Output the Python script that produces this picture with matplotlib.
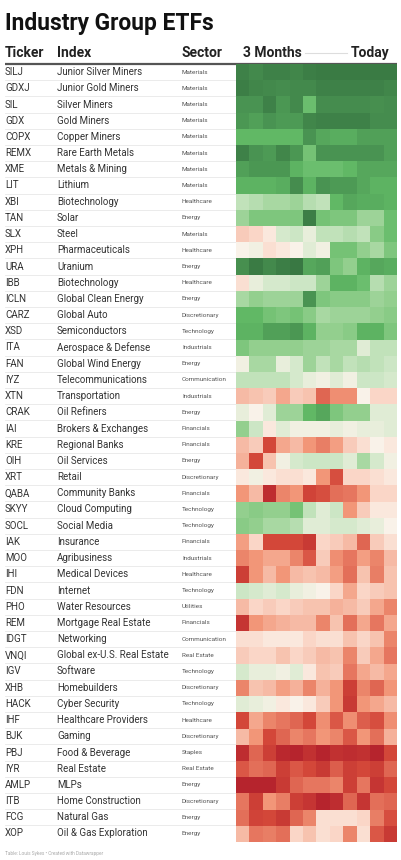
import numpy as np
import matplotlib
matplotlib.use("Agg")
import matplotlib.pyplot as plt
from matplotlib.colors import LinearSegmentedColormap

plt.rcParams['font.family'] = ['Roboto', 'DejaVu Sans']

tickers = ["SILJ", "GDXJ", "SIL", "GDX", "COPX", "REMX", "XME", "LIT", "XBI", "TAN",
           "SLX", "XPH", "URA", "IBB", "ICLN", "CARZ", "XSD", "ITA", "FAN", "IYZ",
           "XTN", "CRAK", "IAI", "KRE", "OIH", "XRT", "QABA", "SKYY", "SOCL", "IAK",
           "MOO", "IHI", "FDN", "PHO", "REM", "IDGT", "VNQI", "IGV", "XHB", "HACK",
           "IHF", "BJK", "PBJ", "IYR", "AMLP", "ITB", "FCG", "XOP"]

indexes = ["Junior Silver Miners", "Junior Gold Miners", "Silver Miners", "Gold Miners",
           "Copper Miners", "Rare Earth Metals", "Metals & Mining", "Lithium",
           "Biotechnology", "Solar", "Steel", "Pharmaceuticals", "Uranium", "Biotechnology",
           "Global Clean Energy", "Global Auto", "Semiconductors", "Aerospace & Defense",
           "Global Wind Energy", "Telecommunications", "Transportation", "Oil Refiners",
           "Brokers & Exchanges", "Regional Banks", "Oil Services", "Retail",
           "Community Banks", "Cloud Computing", "Social Media", "Insurance",
           "Agribusiness", "Medical Devices", "Internet", "Water Resources",
           "Mortgage Real Estate", "Networking", "Global ex-U.S. Real Estate", "Software",
           "Homebuilders", "Cyber Security", "Healthcare Providers", "Gaming",
           "Food & Beverage", "Real Estate", "MLPs", "Home Construction", "Natural Gas",
           "Oil & Gas Exploration"]

sectors = ["Materials", "Materials", "Materials", "Materials", "Materials", "Materials",
           "Materials", "Materials", "Healthcare", "Energy", "Materials", "Healthcare",
           "Energy", "Healthcare", "Energy", "Discretionary", "Technology", "Industrials",
           "Energy", "Communication", "Industrials", "Energy", "Financials", "Financials",
           "Energy", "Discretionary", "Financials", "Technology", "Technology", "Financials",
           "Industrials", "Healthcare", "Technology", "Utilities", "Financials",
           "Communication", "Real Estate", "Technology", "Discretionary", "Technology",
           "Healthcare", "Discretionary", "Staples", "Real Estate", "Energy",
           "Discretionary", "Energy", "Energy"]

# weekly relative strength over the last 3 months (-3 weak ... +3 strong)
weeks = [
    [2.7, 2.5, 2.7, 2.7, 2.6, 2.8, 2.9, 2.9, 2.9, 2.9, 2.9, 2.9],
    [2.8, 2.6, 2.5, 2.4, 2.5, 2.5, 2.7, 2.7, 2.7, 2.7, 2.7, 2.6],
    [2.2, 2.2, 2.7, 2.1, 2.5, 1.4, 2.4, 2.4, 2.4, 2.4, 2.3, 2.4],
    [2.1, 1.9, 2.2, 2.0, 2.0, 2.6, 2.7, 2.7, 2.7, 2.7, 2.4, 2.4],
    [1.5, 1.5, 1.5, 1.5, 1.5, 2.2, 1.8, 1.7, 1.7, 1.9, 1.9, 1.9],
    [2.7, 2.2, 2.0, 2.6, 2.1, 1.3, 2.2, 2.2, 2.2, 2.2, 2.2, 1.9],
    [1.9, 2.1, 2.1, 2.1, 1.6, 1.4, 1.4, 1.4, 1.5, 1.8, 1.8, 1.8],
    [1.6, 1.6, 1.6, 1.7, 2.4, 1.6, 2.2, 2.0, 2.0, 1.8, 1.6, 1.6],
    [0.6, 0.7, 0.8, 0.8, 0.9, 0.7, 0.6, 1.5, 1.8, 1.7, 1.7, 1.6],
    [0.9, 1.2, 1.2, 1.2, 1.2, 2.8, 1.3, 1.2, 1.2, 0.9, 0.9, 1.4],
    [-0.4, -0.3, -0.1, 0.4, 0.5, 0.2, 0.6, 0.6, 0.7, 0.6, 1.1, 1.4],
    [0.0, 0.1, -0.2, -0.1, 0.0, 0.3, 0.1, 1.3, 1.3, 1.0, 0.8, 1.2],
    [2.3, 2.9, 2.5, 2.8, 3.0, 1.8, 1.9, 1.2, 1.0, 1.6, 1.8, 1.7],
    [-0.2, 0.2, 0.4, 0.4, 0.5, 0.5, 0.9, 1.6, 1.6, 1.4, 0.7, 0.9],
    [0.8, 1.0, 0.9, 0.9, 0.9, 2.2, 1.2, 1.1, 1.1, 1.1, 0.9, 1.0],
    [1.5, 1.5, 1.3, 1.2, 1.3, 1.1, 0.8, 0.9, 0.9, 0.9, 1.0, 1.1],
    [1.6, 1.6, 1.9, 1.9, 2.1, 1.6, 1.0, 1.0, 1.1, 1.6, 1.6, 1.2],
    [1.2, 1.0, 1.0, 1.0, 1.0, 0.9, 0.9, 0.8, 0.8, 0.3, 0.6, 0.6],
    [0.1, 0.8, 0.8, 0.2, 0.4, 0.9, 0.6, 0.8, 0.6, 0.7, 0.6, 0.5],
    [0.6, 0.6, 0.6, 0.6, 0.4, 0.2, 0.1, 0.3, 0.1, 0.5, 0.5, 0.4],
    [-0.6, -0.5, -0.4, -0.8, -0.4, -0.5, -1.6, -1.1, -1.1, 0.0, -0.3, -0.3],
    [0.2, 0.0, 0.3, 0.9, 0.9, 1.5, 1.8, 1.2, 1.0, 1.0, 0.3, 0.3],
    [1.0, 0.5, -0.1, 0.3, 0.1, 0.1, 0.1, 0.2, 0.1, 0.2, 0.2, 0.3],
    [-0.6, -0.4, -2.0, -0.8, -0.6, -1.0, -1.3, -0.9, -0.4, -0.2, 0.0, -0.1],
    [-0.7, -2.0, -0.5, 0.1, 0.4, 0.5, 0.5, 0.5, 0.3, 0.8, 0.4, 0.1],
    [-0.1, 0.1, -0.1, -0.2, -0.2, -0.1, -1.0, -1.9, -0.3, -0.3, -0.2, -0.1],
    [-1.0, -0.6, -2.6, -1.2, -1.0, -2.1, -1.9, -1.5, -1.4, -1.0, -0.3, -0.3],
    [1.0, 1.1, 1.0, 1.0, 1.3, 0.6, 0.3, 0.5, -1.0, -0.4, -0.1, -0.1],
    [1.1, 1.0, 0.8, 0.8, 0.7, 0.3, 0.3, 0.4, 0.4, 0.3, 0.2, 0.0],
    [-0.9, -0.3, -2.0, -2.0, -2.0, -2.3, -0.3, -0.4, -0.6, -1.6, -0.4, -0.2],
    [-1.2, -1.0, -0.8, -0.8, -1.2, -1.8, -0.4, -1.1, -1.4, -0.9, -1.2, -0.6],
    [-2.2, -1.0, -0.6, -1.0, -0.6, -0.5, -0.6, -0.9, -1.5, -0.5, -1.3, -0.5],
    [0.5, 0.4, 0.3, 0.4, 0.2, 0.1, 0.0, -0.3, -0.8, -0.3, -0.4, -0.5],
    [-0.6, -0.3, -0.4, -0.3, -0.4, -0.5, -0.5, -0.7, -0.6, -0.4, -0.8, -1.2],
    [-2.4, -1.0, -0.8, -0.7, -0.6, -0.6, -1.2, -0.5, -1.5, -0.8, -1.4, -0.8],
    [-0.2, -0.2, -0.1, -0.1, -0.1, -0.3, -0.2, -0.2, -0.5, -0.3, -0.5, -1.2],
    [-0.4, -0.3, -0.3, -0.5, -0.3, -0.4, -0.6, -0.5, -1.2, -0.4, -0.8, -1.4],
    [0.4, 0.2, 0.2, 0.1, 0.3, -0.1, -0.5, -0.4, -1.4, -0.8, -0.6, -0.8],
    [-1.2, -0.5, -0.6, -0.9, -0.7, -1.2, -0.7, -1.0, -2.2, -1.2, -1.6, -1.0],
    [0.3, 0.2, 0.1, -0.1, 0.0, -0.1, -0.4, -1.0, -2.3, -1.0, -0.8, -0.6],
    [-2.0, -0.8, -1.2, -1.4, -1.6, -2.0, -1.1, -1.8, -1.1, -1.7, -1.9, -1.1],
    [-0.6, -1.0, -2.0, -1.6, -1.2, -1.4, -1.0, -1.2, -1.8, -1.0, -1.5, -0.7],
    [-2.6, -1.6, -2.2, -2.7, -2.8, -2.5, -2.8, -2.5, -2.6, -2.5, -2.8, -2.0],
    [-1.8, -1.5, -1.6, -2.2, -1.8, -2.0, -2.3, -1.7, -2.2, -2.0, -2.2, -1.6],
    [-2.8, -2.8, -2.8, -2.3, -1.6, -1.4, -1.4, -1.2, -2.2, -1.4, -2.4, -2.0],
    [-1.4, -2.2, -1.0, -1.3, -2.2, -2.4, -2.8, -2.6, -1.6, -2.4, -1.5, -1.6],
    [-1.5, -2.1, -2.0, -2.3, -1.6, -1.2, -0.2, -0.2, -0.2, -0.3, -1.3, -1.9],
    [-0.6, -1.4, -1.3, -1.5, -0.3, -0.5, -0.2, -0.3, -1.2, -0.2, -1.8, -2.3],
]

W, H = 402, 860
fig = plt.figure(figsize=(W / 100, H / 100), dpi=100)

# pixel-space overlay for text and rules
ax = fig.add_axes([0, 0, 1, 1])
ax.set_xlim(0, W)
ax.set_ylim(H, 0)
ax.axis('off')

top = 64
row_h = 16.2
hx0, hx1 = 236, 397
n = len(tickers)

ax.text(5, 30, "Industry Group ETFs", fontsize=16.4, fontweight='bold', color='#111111', va='baseline')

hy = 57
ax.text(5, hy, "Ticker", fontsize=10, fontweight='bold', color='#222222', va='baseline')
ax.text(57, hy, "Index", fontsize=10, fontweight='bold', color='#222222', va='baseline')
ax.text(182, hy, "Sector", fontsize=10, fontweight='bold', color='#222222', va='baseline')
ax.text(243, hy, "3 Months", fontsize=10, fontweight='bold', color='#222222', va='baseline')
ax.text(390, hy, "Today", fontsize=10, fontweight='bold', color='#222222', va='baseline', ha='right')
ax.plot([305, 347], [52.5, 52.5], color='#dddddd', lw=0.8)
ax.plot([5, hx1], [63.5, 63.5], color='#555555', lw=1.6, solid_capstyle='butt')

for i in range(n):
    yc = top + (i + 0.5) * row_h
    ax.text(5, yc, tickers[i], fontsize=7, color='#333333', va='center')
    ax.text(57, yc, indexes[i], fontsize=7, color='#333333', va='center')
    ax.text(182, yc, sectors[i], fontsize=4.6, color='#555555', va='center')
    if i < n - 1:
        yl = top + (i + 1) * row_h
        ax.plot([5, hx0], [yl, yl], color='#e8e8e8', lw=0.6)

ax.text(5, 853, "Table: Louis Sykes \u2022 Created with Datawrapper", fontsize=3.4,
        color='#aaaaaa', va='center')

cmap = LinearSegmentedColormap.from_list("rg", [
    (0.0, '#b01c2a'),
    (1 / 6, '#d4483a'),
    (2 / 6, '#f29678'),
    (0.45, '#fad6c7'),
    (0.5, '#fbf3ea'),
    (0.58, '#cfe8c8'),
    (4 / 6, '#93cf8e'),
    (0.75, '#62ba66'),
    (5 / 6, '#4e9b56'),
    (1.0, '#397843'),
])

hax = fig.add_axes([hx0 / W, 1 - (top + n * row_h) / H, (hx1 - hx0) / W, n * row_h / H])
hax.imshow(np.array(weeks), cmap=cmap, vmin=-3, vmax=3, aspect='auto', interpolation='nearest')
hax.axis('off')

fig.savefig("out.png", dpi=100)
